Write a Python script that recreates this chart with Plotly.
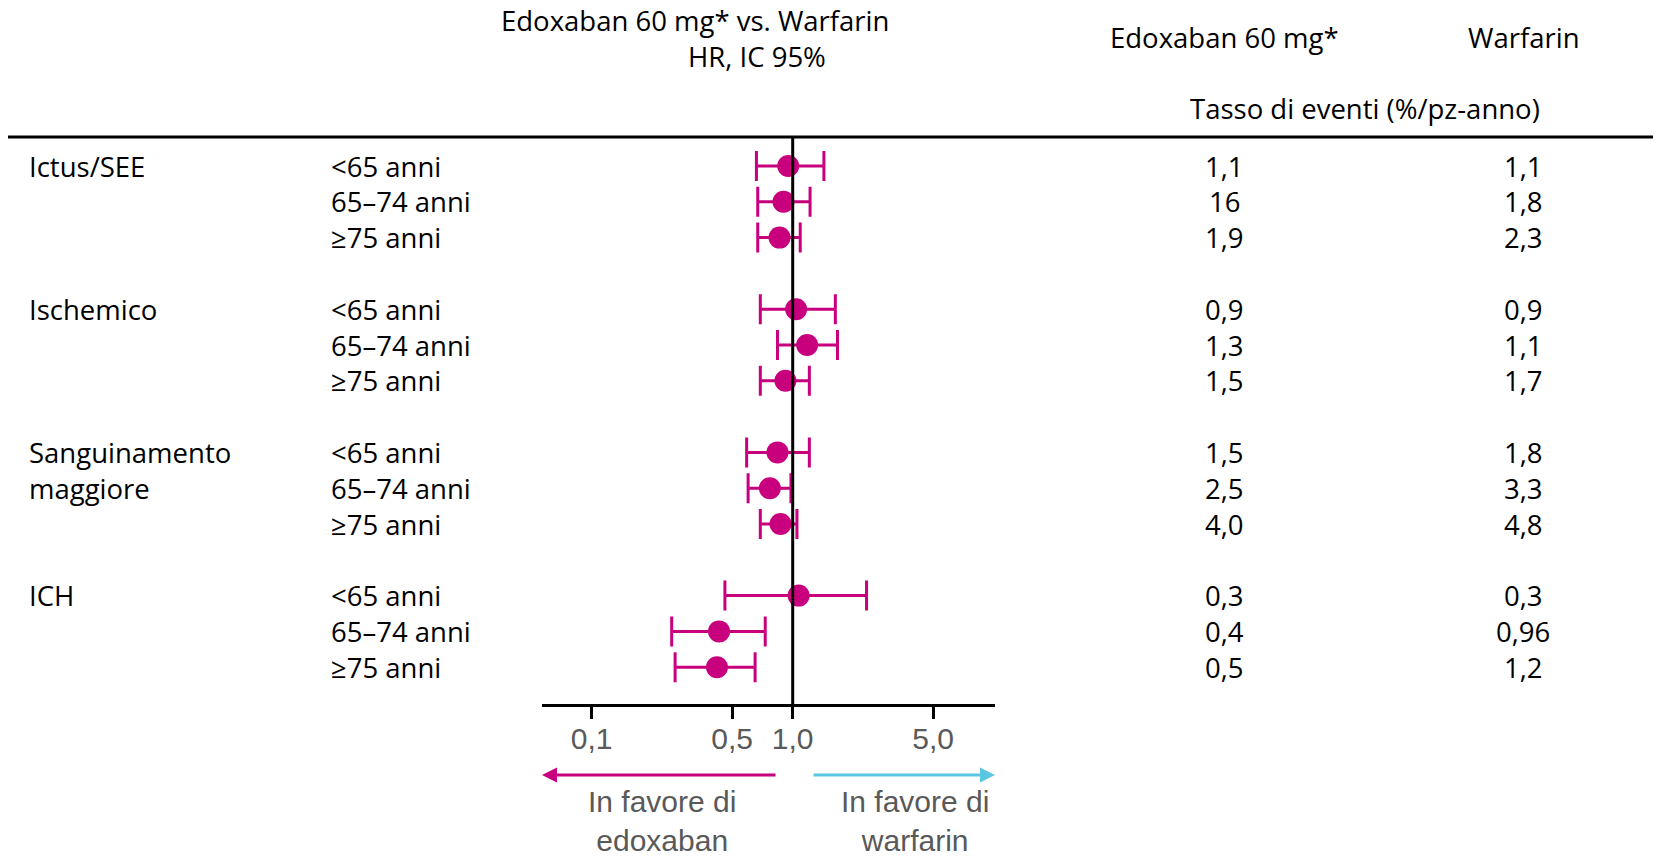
import plotly.graph_objects as go

# ---------------- data ----------------
groups = ["Ictus/SEE", "Ischemico", "Sanguinamento<br>maggiore", "ICH"]
subgroups = ["<65 anni", "65–74 anni", "≥75 anni"]

hr = [0.95, 0.90, 0.86, 1.04, 1.18, 0.92, 0.84, 0.77, 0.87, 1.07, 0.43, 0.42]
ci_low = [0.66, 0.67, 0.67, 0.69, 0.84, 0.69, 0.59, 0.60, 0.69, 0.46, 0.25, 0.26]
ci_high = [1.43, 1.22, 1.09, 1.63, 1.67, 1.21, 1.21, 0.98, 1.05, 2.33, 0.73, 0.65]

edoxaban_rate = ["1,1", "16", "1,9", "0,9", "1,3", "1,5", "1,5", "2,5", "4,0", "0,3", "0,4", "0,5"]
warfarin_rate = ["1,1", "1,8", "2,3", "0,9", "1,1", "1,7", "1,8", "3,3", "4,8", "0,3", "0,96", "1,2"]

tick_vals = [0.1, 0.5, 1.0, 5.0]
tick_text = ["0,1", "0,5", "1,0", "5,0"]

title_lines = ["Edoxaban 60 mg* vs. Warfarin", "HR, IC 95%"]
col_headers = ["Edoxaban 60 mg*", "Warfarin"]
rate_header = "Tasso di eventi (%/pz-anno)"
favour_left = "In favore di<br>edoxaban"
favour_right = "In favore di<br>warfarin"

# ---------------- layout helpers ----------------
# page body has an 8px margin: the figure starts at (8, 8) of the window
W, H, OFF = 1653, 848, 8
MAGENTA = "#C8007E"
BLUE = "#5BC6E4"
GREY = "#595959"
TXT_FONT = "Open Sans"
TXT_SIZE = 27.5
AX_FONT = "Liberation Sans"


def px(X):
    return (X - OFF) / W


def py(Y):
    return 1 - (Y - OFF) / H


ROW0, ROWSTEP = 166.0, 35.8
AX_TOP, AX_BOT = 137.0, 704.0
slot_top = (AX_TOP - ROW0) / ROWSTEP
slot_bot = (AX_BOT - ROW0) / ROWSTEP

slots = []
for gi in range(len(groups)):
    for si in range(len(subgroups)):
        slots.append(gi * 4 + si)

err_plus = [h - m for h, m in zip(ci_high, hr)]
err_minus = [m - l for m, l in zip(hr, ci_low)]

fig = go.Figure()
fig.add_trace(go.Scatter(
    x=hr, y=slots, mode="markers",
    marker=dict(size=22, color=MAGENTA, line=dict(width=0)),
    error_x=dict(type="data", symmetric=False, array=err_plus, arrayminus=err_minus,
                 color=MAGENTA, thickness=3, width=15),
    showlegend=False, hoverinfo="skip",
))

txt_font = dict(family=TXT_FONT, size=TXT_SIZE, color="black")
ann = []
# row labels and values
for gi, g in enumerate(groups):
    for li, line in enumerate(g.split("<br>")):
        ann.append(dict(x=px(27), y=gi * 4 + li, xref="paper", yref="y", text=line,
                        xanchor="left", yanchor="middle", showarrow=False, font=txt_font))
for k, s in enumerate(slots):
    ann.append(dict(x=px(329), y=s, xref="paper", yref="y", text=subgroups[k % 3],
                    xanchor="left", yanchor="middle", showarrow=False, font=txt_font))
    ann.append(dict(x=px(1224), y=s, xref="paper", yref="y", text=edoxaban_rate[k],
                    xanchor="center", yanchor="middle", showarrow=False, font=txt_font))
    ann.append(dict(x=px(1523), y=s, xref="paper", yref="y", text=warfarin_rate[k],
                    xanchor="center", yanchor="middle", showarrow=False, font=txt_font))

# headers
ann.append(dict(x=px(695), y=py(20), xref="paper", yref="paper", text=title_lines[0],
                xanchor="center", yanchor="middle", showarrow=False, font=txt_font))
ann.append(dict(x=px(757), y=py(57), xref="paper", yref="paper", text=title_lines[1],
                xanchor="center", yanchor="middle", showarrow=False, font=txt_font))
ann.append(dict(x=px(1224), y=py(37), xref="paper", yref="paper", text=col_headers[0],
                xanchor="center", yanchor="middle", showarrow=False, font=txt_font))
ann.append(dict(x=px(1524), y=py(37), xref="paper", yref="paper", text=col_headers[1],
                xanchor="center", yanchor="middle", showarrow=False, font=txt_font))
ann.append(dict(x=px(1365), y=py(108), xref="paper", yref="paper", text=rate_header,
                xanchor="center", yanchor="middle", showarrow=False, font=txt_font))

# favour arrows
ann.append(dict(x=px(542), y=py(775), xref="paper", yref="paper", text="",
                showarrow=True, ax=235, ay=0, arrowhead=2, arrowsize=1,
                arrowwidth=3, arrowcolor=MAGENTA, standoff=0))
ann.append(dict(x=px(995), y=py(775), xref="paper", yref="paper", text="",
                showarrow=True, ax=-183, ay=0, arrowhead=2, arrowsize=1,
                arrowwidth=3, arrowcolor=BLUE, standoff=0))
ann.append(dict(x=px(662), y=py(821), xref="paper", yref="paper", text=favour_left,
                xanchor="center", yanchor="middle", showarrow=False,
                font=dict(family=AX_FONT, size=30, color=GREY)))
ann.append(dict(x=px(915), y=py(821), xref="paper", yref="paper", text=favour_right,
                xanchor="center", yanchor="middle", showarrow=False,
                font=dict(family=AX_FONT, size=30, color=GREY)))

shapes = [
    dict(type="line", xref="paper", yref="paper", x0=px(8), x1=1.02,
         y0=py(AX_TOP), y1=py(AX_TOP), line=dict(color="black", width=3)),
    dict(type="line", xref="x", yref="paper", x0=1, x1=1,
         y0=py(AX_BOT), y1=py(AX_TOP), line=dict(color="black", width=3)),
]

fig.update_layout(
    width=W, height=H,
    margin=dict(l=0, r=0, t=0, b=0),
    paper_bgcolor="white", plot_bgcolor="white",
    annotations=ann, shapes=shapes,
    xaxis=dict(type="log", domain=[px(542), px(995)],
               range=[(542 - 792.7) / 201.0, (995 - 792.7) / 201.0],
               showgrid=False, zeroline=False, showline=True, linecolor="black", linewidth=3,
               ticks="outside", ticklen=12, tickwidth=3, tickcolor="black",
               tickvals=tick_vals, ticktext=tick_text, ticklabelstandoff=-6,
               tickfont=dict(family=AX_FONT, size=30, color=GREY), fixedrange=True),
    yaxis=dict(domain=[py(AX_BOT), py(AX_TOP)], range=[slot_bot, slot_top],
               visible=False, fixedrange=True),
)

fig.write_html("out.html")
